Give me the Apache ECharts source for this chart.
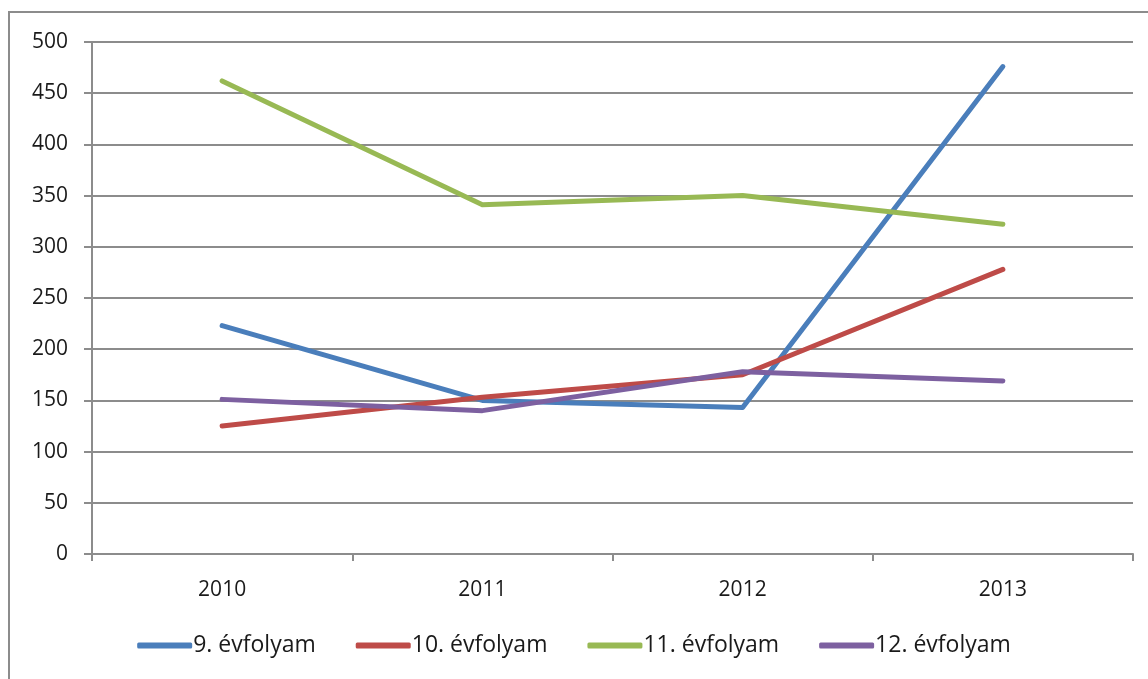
<!DOCTYPE html>
<html>
<head>
<meta charset="utf-8">
<script src="https://cdn.jsdelivr.net/npm/echarts@6/dist/echarts.min.js"></script>
<style>
  html, body { margin: 0; padding: 0; background: #fff; }
  #main { width: 1148px; height: 679px; }
</style>
</head>
<body>
<div id="main"></div>
<script>
// data
const years = ["2010", "2011", "2012", "2013"]
const grade9 = [223, 150, 143, 476]
const grade10 = [125, 153, 175, 278]
const grade11 = [462, 341, 350, 322]
const grade12 = [151, 140, 178, 169]
const yTicks = { min: 0, max: 500, interval: 50 }

const font = "'Open Sans', 'Noto Sans', sans-serif"
const grey = "#8c8c8c"

const mkLine = (name, data, color) => ({
  name, data, type: "line",
  symbol: "none",
  lineStyle: { width: 5, color, cap: "round", join: "round" },
  itemStyle: { color }
})

const options = {
  animation: false,
  backgroundColor: "#fff",
  graphic: [{
    type: "rect",
    shape: { x: 9, y: 12, width: 1200, height: 700 },
    style: { fill: null, stroke: grey, lineWidth: 2 }
  }],
  grid: { left: 92, right: 15, top: 42, bottom: 125 },
  legend: {
    bottom: 17,
    left: "center",
    itemWidth: 55,
    itemHeight: 6,
    itemGap: 40,
    icon: "roundRect",
    textStyle: { fontFamily: font, fontSize: 23, color: "#1a1a1a", padding: [0, 0, 0, -4] },
    data: ["9. évfolyam", "10. évfolyam", "11. évfolyam", "12. évfolyam"]
  },
  xAxis: {
    type: "category",
    data: years,
    boundaryGap: true,
    axisLine: { lineStyle: { color: grey, width: 2 } },
    axisTick: { show: true, length: 7, lineStyle: { color: grey, width: 2 } },
    axisLabel: { color: "#1a1a1a", fontFamily: font, fontSize: 21, margin: 26 }
  },
  yAxis: {
    type: "value",
    min: yTicks.min, max: yTicks.max, interval: yTicks.interval,
    axisLine: { show: true, lineStyle: { color: grey, width: 2 } },
    axisTick: { show: true, length: 8, lineStyle: { color: grey, width: 2 } },
    axisLabel: { color: "#1a1a1a", fontFamily: font, fontSize: 21, margin: 24 },
    splitLine: { lineStyle: { color: grey, width: 2 } }
  },
  series: [
    mkLine("9. évfolyam", grade9, "#4a7ebb"),
    mkLine("10. évfolyam", grade10, "#be4b48"),
    mkLine("11. évfolyam", grade11, "#98b954"),
    mkLine("12. évfolyam", grade12, "#7d60a0")
  ]
}

const myChart = echarts.init(document.getElementById("main"))
myChart.setOption(options)
window.onresize = () => myChart.resize()
</script>
</body>
</html>
